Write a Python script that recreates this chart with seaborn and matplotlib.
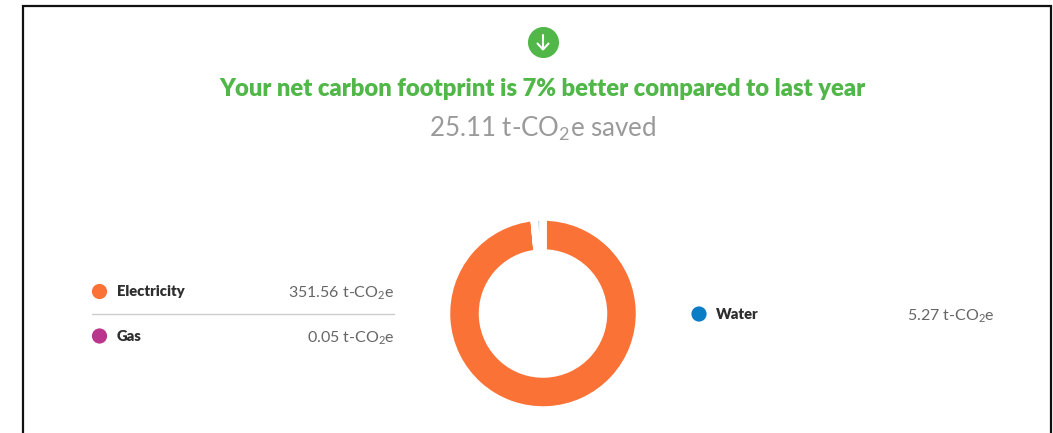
import seaborn as sns
import pandas as pd
import matplotlib.pyplot as plt
from matplotlib.lines import Line2D

# values
sources = ["Electricity", "Gas", "Water"]
emissions = [351.56, 0.05, 5.27]
source_colors = ["#FB7237", "#B9368C", "#0B7DC4"]
title_text = "Your net carbon footprint is 7% better compared to last year"
saved_text = "25.11 t-CO$_2$e saved"

W, H = 1053, 433
GREEN = "#50B748"

sns.set_theme(style="white")
plt.rcParams['font.family'] = ['Lato', 'DejaVu Sans']
plt.rcParams['mathtext.fontset'] = 'custom'
plt.rcParams['mathtext.rm'] = 'Lato'
plt.rcParams['mathtext.default'] = 'rm'

fig = plt.figure(figsize=(W / 100, H / 100), dpi=100, facecolor="white")

# overlay in pixel units, y going down like the picture
ax = fig.add_axes([0, 0, 1, 1])
ax.set_xlim(0, W)
ax.set_ylim(H, 0)
ax.axis("off")

# card border, open at the bottom
ax.plot([23, 23, 1051, 1051], [H, 5.5, 5.5, H], color="#111111", lw=1.6,
        solid_joinstyle="miter")

# green arrow badge
ax.scatter([543], [42], s=500, color=GREEN, linewidths=0)
ax.plot([543, 543], [35, 49], color="white", lw=1.5, solid_capstyle="round")
ax.plot([537.5, 543, 548.5], [43.5, 49.5, 43.5], color="white", lw=1.5,
        solid_capstyle="round", solid_joinstyle="round")

ax.text(542.5, 89, title_text, color=GREEN, fontsize=17.1, fontweight="heavy",
        ha="center", va="center")
ax.text(543, 129, saved_text, color="#9A9A9A", fontsize=18.6,
        ha="center", va="center")

# legend rows
legend = pd.DataFrame({
    "source": sources,
    "x": [99.5, 99.5, 699],
    "y": [291.5, 336, 314],
})
sns.scatterplot(data=legend, x="x", y="y", hue="source", hue_order=sources,
                palette=source_colors, s=120, linewidth=0, legend=False, ax=ax)
ax.set_xlim(0, W)
ax.set_ylim(H, 0)
ax.axis("off")

label_x = [117, 117, 716]
value_x = [394.5, 394.5, 994.5]
for i, source in enumerate(sources):
    y = legend["y"][i]
    ax.text(label_x[i], y + 0.5, source, color="#2E2E2E", fontsize=10.6,
            fontweight="heavy", ha="left", va="center")
    ax.text(value_x[i], y + 2, "%.2f t-CO$_2$e" % emissions[i], color="#666666",
            fontsize=11.5, ha="right", va="center")
ax.add_line(Line2D([92, 394], [313.5, 313.5], color="#CCCCCC", lw=1))

# donut, the thick white edge eats most of the two small slices
R = 96.5
cx, cy = 543, 313.5
size = 2 * R * 1.25
pie_ax = fig.add_axes([(cx - size / 2) / W, 1 - (cy + size / 2) / H, size / W, size / H])
wedges, _ = pie_ax.pie(emissions, colors=source_colors, startangle=90, counterclock=False,
                       radius=1, wedgeprops={"width": 0.373, "edgecolor": "white", "linewidth": 5.4})
# what is left of the water slice shows only as a pale sliver
wedges[2].set_facecolor("#A9D3E8")
pie_ax.set_xlim(-1.25, 1.25)
pie_ax.set_ylim(-1.25, 1.25)
pie_ax.patch.set_alpha(0)

fig.savefig("out.png", dpi=100)
